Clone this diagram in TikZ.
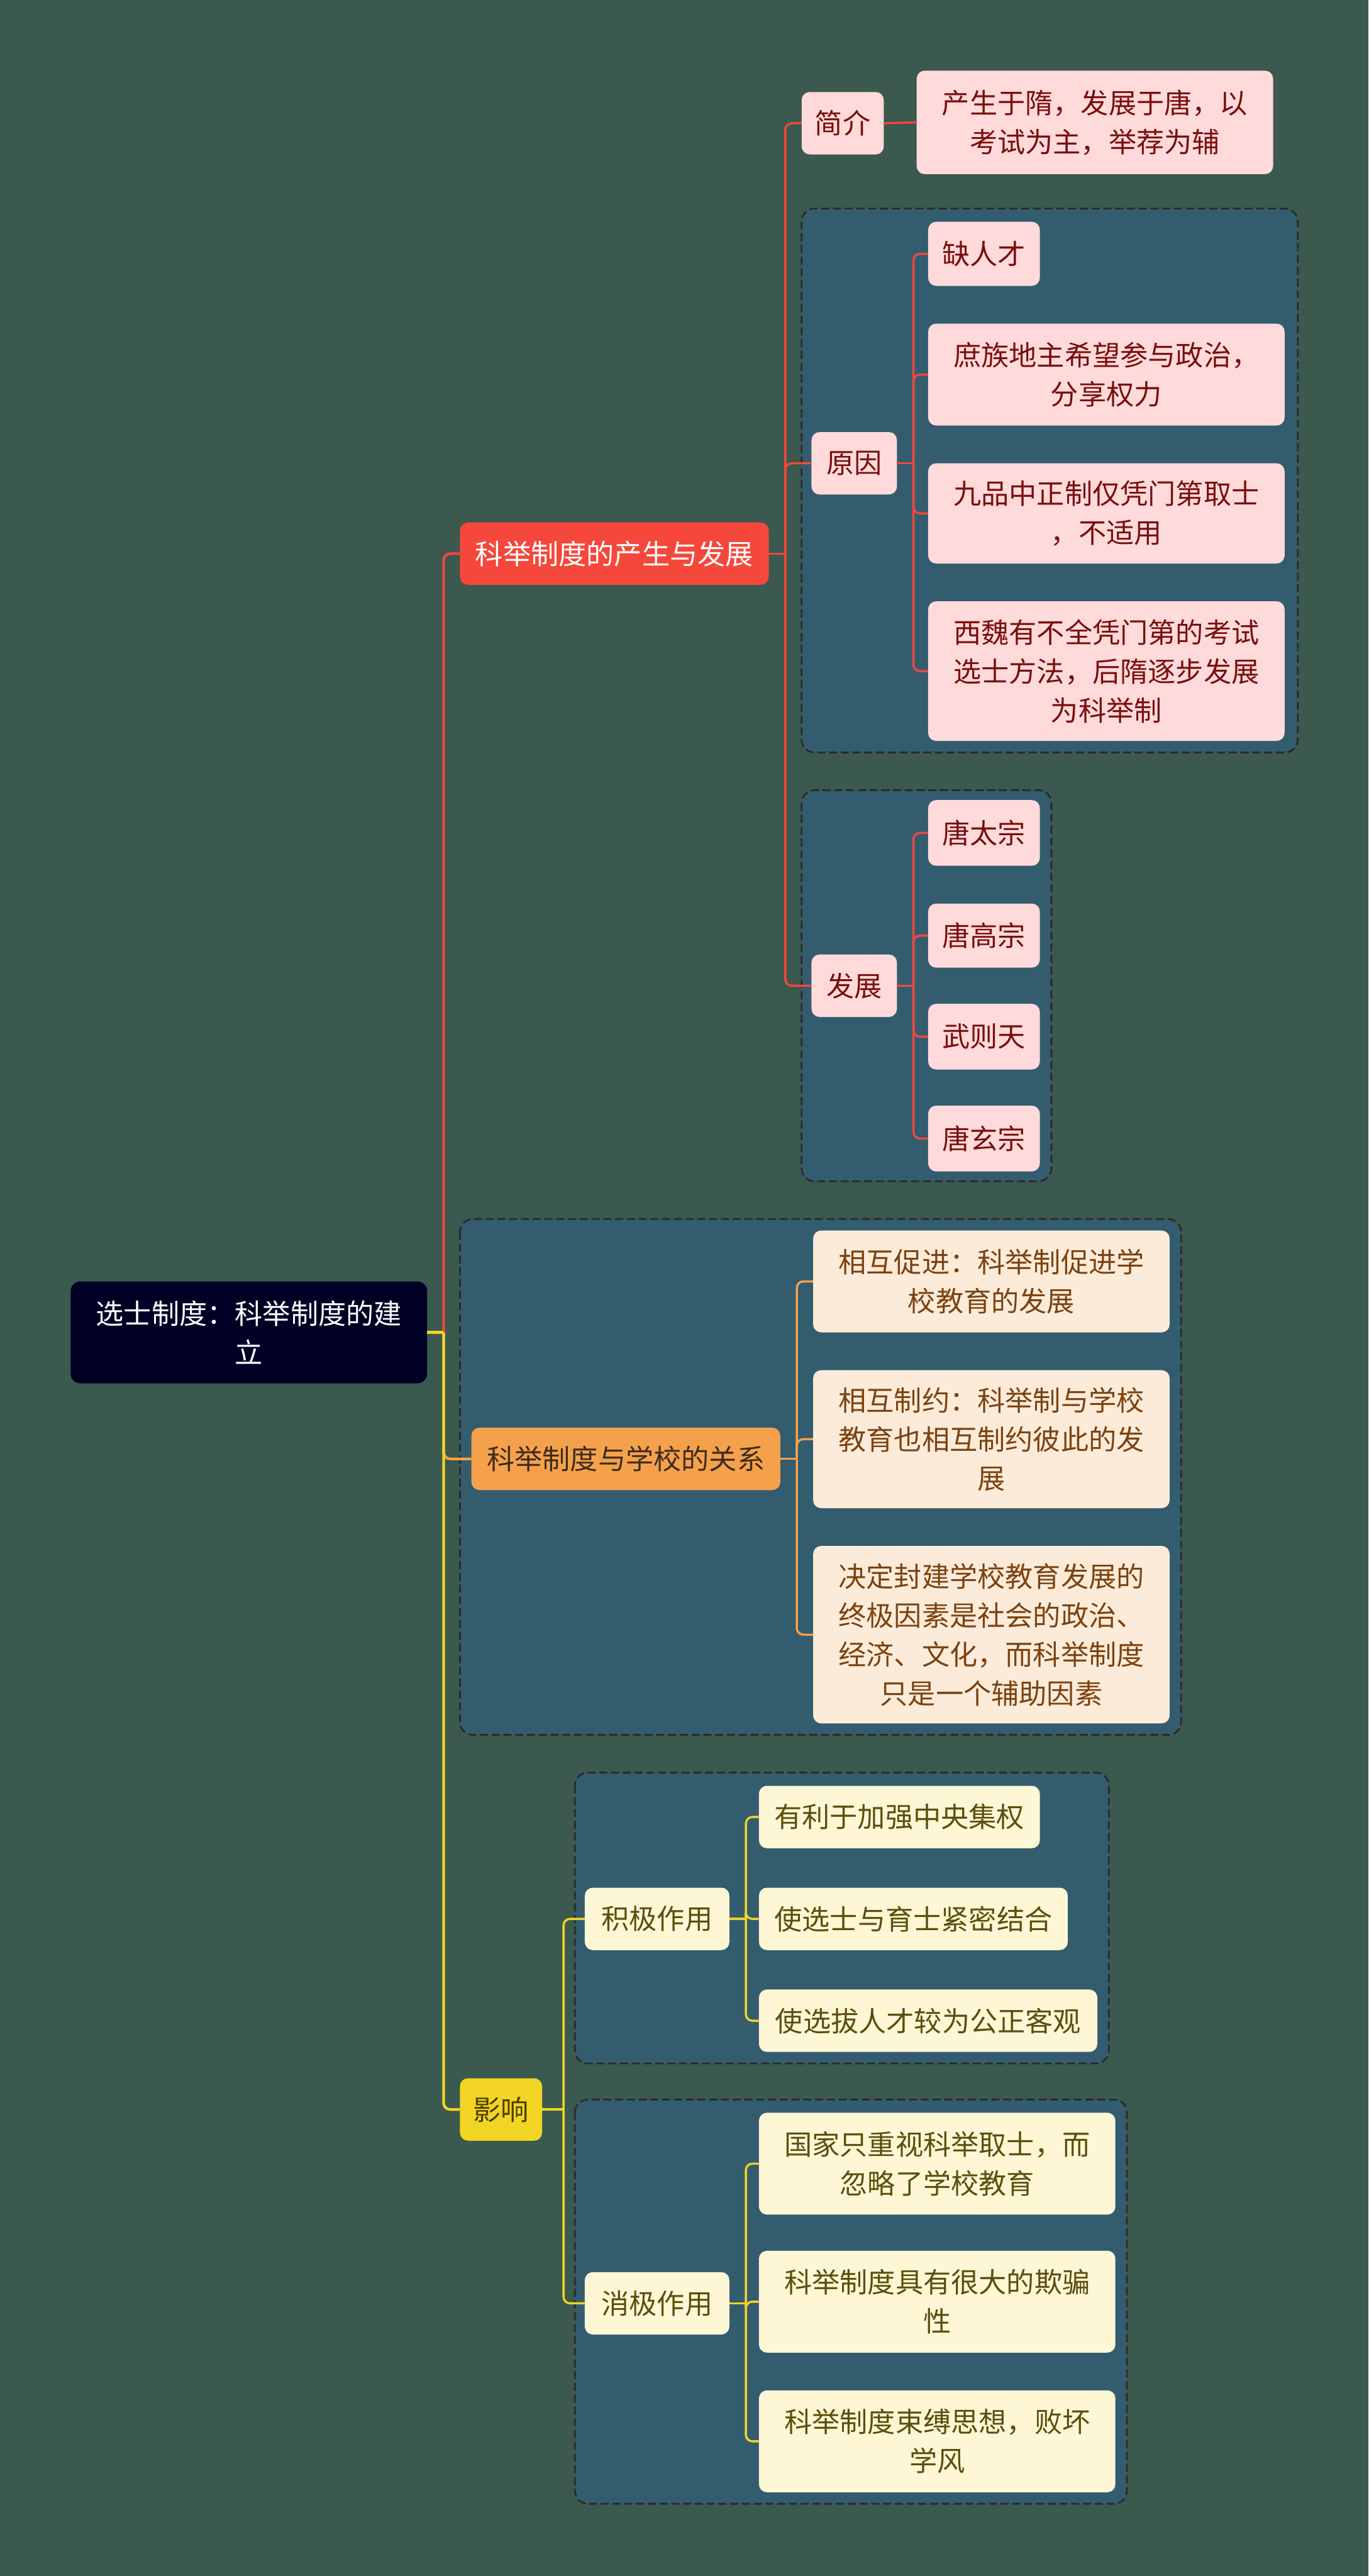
\documentclass[tikz,border=0pt]{standalone}
\usepackage{fontspec}
\newfontfamily\cjk{Noto Sans CJK SC}
\newlength\U
\setlength\U{3.0732pt}
\definecolor{bgc}{HTML}{3B594E}
\definecolor{grpc}{HTML}{345C6F}
\definecolor{grpline}{HTML}{2A2A2A}
\definecolor{rootc}{HTML}{000025}
\definecolor{redc}{HTML}{F5473B}
\definecolor{orgc}{HTML}{F5A14C}
\definecolor{yelc}{HTML}{F2D424}
\definecolor{pinkc}{HTML}{FFDADA}
\definecolor{pinktxt}{HTML}{7A0E0E}
\definecolor{creamc}{HTML}{FDEBDA}
\definecolor{creamtxt}{HTML}{7B4310}
\definecolor{lyelc}{HTML}{FDF7D5}
\definecolor{lyeltxt}{HTML}{5C4E0E}
\definecolor{orgtxt}{HTML}{3F2C1C}
\definecolor{yeltxt}{HTML}{4A3D00}
\tikzset{
  base/.style={rounded corners=15pt, inner sep=0pt, align=center,
    font=\cjk\fontsize{52}{73}\selectfont},
  rootn/.style={base, fill=rootc, text=white, rounded corners=18pt},
  redn/.style={base, fill=redc, text=white},
  orgn/.style={base, fill=orgc, text=orgtxt},
  yeln/.style={base, fill=yelc, text=yeltxt},
  pinkn/.style={base, fill=pinkc, text=pinktxt},
  creamn/.style={base, fill=creamc, text=creamtxt},
  lyeln/.style={base, fill=lyelc, text=lyeltxt},
  grp/.style={draw=grpline, fill=grpc, dash pattern=on 15pt off 7pt,
    line width=3.3pt, rounded corners=24pt},
  conn/.style={line width=4pt},
  mainconn/.style={line width=5pt},
  sz/.style 2 args={minimum width={#1*\U}, minimum height={#2*\U}},
}
\newcommand\lnk[5][conn]{%
  \draw[#1,#2] (#3.east) -- ++(#5,0) coordinate (tmpj);
  \draw[#1,#2,rounded corners=12pt] (tmpj) |- (#4.west);
}
\begin{document}
\begin{tikzpicture}[x=3.0732pt, y=-3.0732pt]
\fill[bgc] (0,0) rectangle (833,1568);
\useasboundingbox (0,0) rectangle (833,1568);

% group boxes
\draw[grp] (488,127) rectangle (790,458);
\draw[grp] (488,481) rectangle (640,719);
\draw[grp] (280,742) rectangle (719,1056);
\draw[grp] (350,1079) rectangle (675,1256);
\draw[grp] (350,1278) rectangle (686,1524);

% nodes
\node[rootn, sz={217}{62}] (root) at (151.5,811) {选士制度：科举制度的建\\立};
\node[redn, sz={188}{38}] (n1) at (374,337) {科举制度的产生与发展};
\node[orgn, sz={188}{38}] (n2) at (381,888) {科举制度与学校的关系};
\node[yeln, sz={50}{38}] (n3) at (305,1284) {影响};

\node[pinkn, sz={50}{38}] (jj) at (513,75) {简介};
\node[pinkn, sz={217}{63}] (jjl) at (666.5,74.5) {产生于隋，发展于唐，以\\考试为主，举荐为辅};
\node[pinkn, sz={52}{38}] (yy) at (520,282) {原因};
\node[pinkn, sz={68}{39}] (y1) at (599,154.5) {缺人才};
\node[pinkn, sz={217}{62}] (y2) at (673.5,228) {庶族地主希望参与政治，\\分享权力};
\node[pinkn, sz={217}{61}] (y3) at (673.5,312.5) {九品中正制仅凭门第取士\\，不适用};
\node[pinkn, sz={217}{85}] (y4) at (673.5,408.5) {西魏有不全凭门第的考试\\选士方法，后隋逐步发展\\为科举制};
\node[pinkn, sz={52}{38}] (fz) at (520,600) {发展};
\node[pinkn, sz={68}{40}] (f1) at (599,507) {唐太宗};
\node[pinkn, sz={68}{39}] (f2) at (599,569.5) {唐高宗};
\node[pinkn, sz={68}{40}] (f3) at (599,631) {武则天};
\node[pinkn, sz={68}{40}] (f4) at (599,693) {唐玄宗};

\node[creamn, sz={217}{62}] (r1) at (603.5,780) {相互促进：科举制促进学\\校教育的发展};
\node[creamn, sz={217}{84}] (r2) at (603.5,876) {相互制约：科举制与学校\\教育也相互制约彼此的发\\展};
\node[creamn, sz={217}{108}] (r3) at (603.5,995) {决定封建学校教育发展的\\终极因素是社会的政治、\\经济、文化，而科举制度\\只是一个辅助因素};

\node[lyeln, sz={88}{38}] (jz) at (400,1168) {积极作用};
\node[lyeln, sz={171}{38}] (j1) at (547.5,1106) {有利于加强中央集权};
\node[lyeln, sz={188}{38}] (j2) at (556,1168) {使选士与育士紧密结合};
\node[lyeln, sz={206}{38}] (j3) at (565,1230) {使选拔人才较为公正客观};
\node[lyeln, sz={88}{38}] (xz) at (400,1402) {消极作用};
\node[lyeln, sz={217}{62}] (x1) at (570.5,1317) {国家只重视科举取士，而\\忽略了学校教育};
\node[lyeln, sz={217}{62}] (x2) at (570.5,1401) {科举制度具有很大的欺骗\\性};
\node[lyeln, sz={217}{62}] (x3) at (570.5,1486) {科举制度束缚思想，败坏\\学风};

% connectors
\lnk[mainconn]{redc}{root}{n1}{10}
\lnk[mainconn]{orgc}{root}{n2}{10}
\lnk[mainconn]{yelc}{root}{n3}{10}

\lnk{redc}{n1}{jj}{10}
\lnk{redc}{n1}{yy}{10}
\lnk{redc}{n1}{fz}{10}
\draw[conn,redc] (jj.east) -- (jjl.west);
\lnk{redc}{yy}{y1}{10}
\lnk{redc}{yy}{y2}{10}
\lnk{redc}{yy}{y3}{10}
\lnk{redc}{yy}{y4}{10}
\lnk{redc}{fz}{f1}{10}
\lnk{redc}{fz}{f2}{10}
\lnk{redc}{fz}{f3}{10}
\lnk{redc}{fz}{f4}{10}

\lnk{orgc}{n2}{r1}{10}
\lnk{orgc}{n2}{r2}{10}
\lnk{orgc}{n2}{r3}{10}

\lnk{yelc}{n3}{jz}{13}
\lnk{yelc}{n3}{xz}{13}
\lnk{yelc}{jz}{j1}{10}
\lnk{yelc}{jz}{j2}{10}
\lnk{yelc}{jz}{j3}{10}
\lnk{yelc}{xz}{x1}{10}
\lnk{yelc}{xz}{x2}{10}
\lnk{yelc}{xz}{x3}{10}
\end{tikzpicture}
\end{document}
